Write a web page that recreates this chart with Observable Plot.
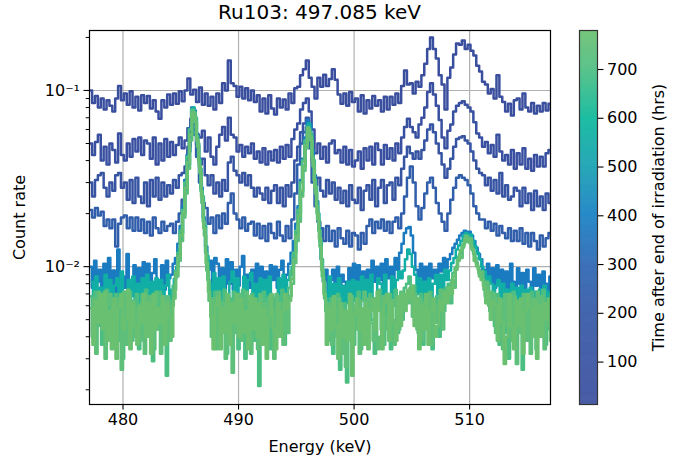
<!DOCTYPE html>
<html><head><meta charset="utf-8">
<script src="https://cdn.jsdelivr.net/npm/d3@7"></script>
<script src="https://cdn.jsdelivr.net/npm/@observablehq/plot@0.6"></script>
<style>
body{margin:0;background:#fff;font-family:"DejaVu Sans",sans-serif;}
#wrap{position:relative;width:674px;height:459px;overflow:hidden;}
#title{position:absolute;left:89px;width:461px;top:-1px;text-align:center;font-size:20px;line-height:26px;color:#000;z-index:2;}
#main{position:absolute;left:0;top:0;}
#cbar{position:absolute;left:579px;top:0;}
</style></head><body>
<div id="wrap"><div id="title">Ru103: 497.085 keV</div><div id="main"></div><div id="cbar"></div></div>
<script>
// ---- Data (count rates in units of 1e-4) ----
// Early spectra: bins of 0.25 keV starting at 477.2 keV
const upperStart = 477.2, upperStep = 0.25;
// Late spectra: bins of 0.2 keV
const lowerStep = 0.2;

const rate_t15 = [
1000,850,930,800, 900,780,880,820, 760,900,1060,880, 960,830,990,800, 920,770,940,850,
930,790,880,760, 690,880,800,950, 830,960,840,990, 870,1000,1170,950, 1010,860,1040,830,
960,820,920,780, 960,850,1100,1000, 1480,1100,1060,920, 1050,900,1030,880, 1000,860,940,760,
900,740,940,790, 730,900,800,890, 780,960,850,1030, 1050,1220,1320,1480, 1180,1050,900,1180,
1050,1230,1060,1160, 1320,1150,950,840, 960,820,980,860, 900,760,940,740, 880,790,930,820,
880,760,920,780, 920,830,960,850, 1060,1300,1080,1100, 960,1120,1050,1220, 1420,1720,2000,1720,
1520,1220,1080,780, 1180,1350,1600,1850, 1820,1920,1720,1820, 1680,1580,1380,1280, 1120,1080,960,1020,
900,1220,920,860, 760,840,720,880, 900,780,960,800, 760,850,740,820, 760,850,770,840];

const rate_t50 = [
500,430,510,560, 400,480,380,500, 460,390,570,430, 400,500,420,530, 450,540,430,520,
500,410,540,380, 500,400,530,420, 510,430,490,540, 470,520,610,690, 640,560,540,590,
450,540,420,380, 480,560,620,520, 700,560,540,450, 490,420,480,440, 500,410,450,390,
470,380,450,400, 460,390,480,410, 490,420,530,600, 650,780,850,900, 760,600,440,500,
410,480,390,500, 520,440,460,390, 480,380,460,370, 400,450,360,470, 400,480,380,500,
460,380,490,410, 470,400,500,440, 540,620,690,620, 580,540,640,700, 800,980,1100,950,
820,680,540,470, 590,640,760,820, 850,870,830,800, 760,660,570,540, 480,510,440,490,
420,560,450,400, 430,380,460,360, 440,380,470,360, 410,350,430,370, 420,370,440,460];

const rate_t110 = [
300,250,310,330, 340,280,250,300, 270,330,340,280, 300,240,310,230, 320,250,230,300,
220,310,250,320, 240,300,250,290, 260,310,280,330, 340,370,480,620, 600,490,380,410,
330,290,330,260, 300,250,310,270, 390,420,350,330, 300,340,290,330, 280,250,280,260,
240,280,230,270, 290,230,280,220, 290,250,300,400, 480,580,650,700, 560,400,290,320,
270,250,310,260, 300,240,280,230, 270,220,290,240, 230,280,210,270, 290,240,310,220,
280,310,230,290, 300,240,320,290, 360,420,480,440, 410,450,410,460, 520,600,640,580,
500,440,380,320, 360,410,480,530, 540,550,520,500, 450,400,360,340, 330,290,320,270,
310,260,340,250, 290,240,250,280, 270,220,280,230, 260,210,270,220, 250,210,260,230];

const rate_t240 = [
210,190,215,195, 205,170,185,165, 185,130,175,190, 195,165,190,160, 190,160,185,155,
180,150,190,165, 155,180,160,170, 175,155,180,200, 240,310,450,600, 560,420,300,230,
215,175,190,155, 195,165,200,175, 230,260,200,185, 165,190,160,175, 180,150,175,145,
170,140,175,155, 145,180,150,140, 170,145,185,260, 380,500,580,620, 470,300,220,180,
165,140,170,140, 160,130,165,145, 135,160,130,155, 150,125,155,135, 170,185,155,180,
165,185,160,180, 155,180,190,165, 200,250,320,370, 300,220,185,215, 260,300,320,280,
230,200,180,160, 200,240,280,320, 330,320,310,290, 260,220,200,185, 185,165,180,160,
175,150,170,155, 145,165,140,160, 140,165,135,155, 130,155,140,125, 150,130,145,155];

// Late spectra
const rate_t380 = [ // starts 477.2
100,76,108,82,96, 74,104,80,112,78, 95,72,125,80,88, 76,118,84,74,102, 80,98,72,106,78,
104,74,92,110,76, 82,102,74,108,86, 90,104,112,135,170, 220,310,430,610,800, 770,570,410,280,190,
130,96,108,80,112, 104,76,98,72,110, 80,106,74,96,78, 100,115,78,90,76, 96,74,104,80,100,
78,94,72,102,84, 100,76,96,108,78, 90,104,120,140,175, 220,310,410,540,680, 640,460,330,235,165,
110,82,96,74,84, 96,76,100,70,90, 82,72,98,76,104, 78,102,80,94,74, 96,78,108,82,100,
84,104,78,110,86, 100,82,112,96,120, 135,155,165,168,150, 120,96,84,104,80, 100,78,104,86,96,
82,104,94,112,98, 110,118,128,135,142, 150,155,160,152,158, 150,140,128,118,110, 96,86,104,80,98,
76,102,80,96,74, 94,76,104,82,72, 98,80,92,74,96, 82,70,98,78,90, 74,94,80,70,88];

const rate_t560 = [ // starts 477.3
82,64,88,60,76, 66,90,62,84,58, 78,86,64,94,70, 60,84,68,88,64, 80,60,86,66,90,
64,82,58,86,68, 84,62,78,90,60, 74,85,100,125,155, 200,275,380,560,800, 700,500,360,250,170,
115,80,64,92,66, 86,62,88,68,60, 82,94,64,86,60, 66,88,62,84,92, 64,80,58,86,68,
84,62,88,68,60, 66,86,62,90,70, 84,90,100,120,155, 200,270,370,500,650, 560,400,285,200,140,
95,72,64,88,60, 80,58,86,62,78, 62,82,56,84,64, 82,60,88,64,84, 64,90,66,60,86,
80,62,90,70,64, 88,66,84,94,86, 95,110,125,118,100, 90,70,86,64,82, 66,86,62,80,90,
70,90,74,96,84, 95,105,112,125,132, 140,150,155,148,152, 140,130,120,110,100, 94,82,88,80,72,
78,84,62,80,58, 74,56,80,62,76, 60,78,56,74,62, 76,58,72,54,74, 62,78,56,72,60];

const rate_t700 = [ // starts 477.2
68,40,72,46,62, 36,58,74,42,66, 48,70,38,64,30, 60,42,72,38,56, 70,34,62,44,74,
40,66,29,60,44, 72,38,58,24,64, 52,78,95,120,160, 210,300,420,600,780, 750,550,400,270,180,
120,84,66,40,72, 36,64,46,74,32, 66,40,72,50,34, 58,74,30,62,44, 70,38,60,21,52,
72,42,66,34,58, 40,68,46,74,36, 62,76,95,120,160, 210,300,400,520,620, 580,420,310,220,160,
110,82,56,38,66, 32,58,70,26,52, 62,22,48,68,36, 58,72,34,56,66, 40,70,50,32,62,
74,44,36,66,50, 34,60,74,42,68, 50,76,80,88,64, 78,50,42,70,36, 64,44,72,34,60,
68,40,74,56,76, 80,62,92,98,110, 118,128,140,148,140, 130,118,106,96,90, 84,68,80,56,72,
46,70,36,64,42, 66,30,58,72,40, 62,44,26,68,48, 38,72,46,34,66, 52,74,36,62,44];

const rate_t740 = [ // starts 477.3
44,66,32,72,50, 64,30,60,70,38, 42,66,54,26,72, 36,68,50,64,40, 58,38,70,32,64,
68,46,34,72,52, 32,64,44,68,38, 60,74,88,108,140, 190,260,360,520,760, 660,480,340,230,150,
95,64,40,66,34, 72,44,62,30,68, 46,25,64,42,70, 38,60,72,46,32, 66,50,34,70,40,
62,36,68,46,30, 70,46,62,36,60, 42,68,80,105,140, 180,250,350,470,600, 520,370,260,185,130,
88,66,42,62,36, 60,40,66,32,56, 27,54,68,38,60, 44,32,64,72,38, 66,48,38,64,34,
40,68,52,44,70, 50,36,66,44,72, 58,70,62,76,52, 70,44,66,38,62, 46,70,36,64,48,
60,74,44,68,76, 66,84,76,100,114, 112,134,150,138,145, 124,112,100,88,94, 74,82,60,55,70,
42,66,50,34,70, 46,62,38,68,28, 60,42,70,38,64, 32,66,46,72,40, 68,34,62,46,70];

const rate_t775 = [ // starts 477.25
58,36,64,48,70, 44,72,38,56,34, 66,30,58,70,44, 50,74,34,62,46, 36,60,48,70,40,
62,32,70,44,58, 48,68,36,62,52, 40,66,92,115,150, 200,280,390,560,740, 700,520,370,250,165,
105,72,52,34,60, 68,34,58,42,70, 36,62,48,70,40, 66,42,56,34,68, 44,66,40,62,36,
58,30,52,70,44, 34,62,40,56,70, 58,64,85,110,150, 195,270,370,490,610, 550,400,285,200,145,
96,70,36,58,44, 68,46,30,62,40, 56,38,70,24,54, 66,44,58,36,62, 34,56,66,44,72,
56,34,62,70,38, 64,48,38,68,46, 70,56,74,66,78, 46,66,34,60,44, 70,36,56,66,40,
46,64,56,72,62, 76,70,88,96,108, 124,130,144,142,136, 126,108,102,92,84, 78,62,72,50,64,
60,38,66,48,28, 40,70,46,34,64, 46,66,32,56,70, 58,40,64,30,60, 40,62,50,66,38];

// time after end of irradiation (hrs) per spectrum, with bin start and width
const spectra = [
  {t: 15,  start: upperStart, step: upperStep, rate: rate_t15},
  {t: 50,  start: upperStart, step: upperStep, rate: rate_t50},
  {t: 110, start: upperStart, step: upperStep, rate: rate_t110},
  {t: 240, start: upperStart, step: upperStep, rate: rate_t240},
  {t: 380, start: 477.2,  step: lowerStep, rate: rate_t380},
  {t: 560, start: 477.3,  step: lowerStep, rate: rate_t560},
  {t: 700, start: 477.2,  step: lowerStep, rate: rate_t700},
  {t: 740, start: 477.3,  step: lowerStep, rate: rate_t740},
  {t: 775, start: 477.25, step: lowerStep, rate: rate_t775}
];

// colormap stops (hrs)
const cStops = [13, 200, 300, 400, 500, 600, 700, 780];
const cColors = ["#3a4e9e", "#3559a7", "#2c66b2", "#1780c4", "#17a0b2", "#0bb89b", "#4dbe82", "#6cc070"];
const xTicks = [480, 490, 500, 510];
const yMajor = [0.01, 0.1];
const yMinor = [0.002,0.003,0.004,0.005,0.006,0.007,0.008,0.009,0.02,0.03,0.04,0.05,0.06,0.07,0.08,0.09,0.2];
const cTicks = [100, 200, 300, 400, 500, 600, 700];

const colorOpts = {type: "linear", domain: cStops, range: cColors};
const font = {fontFamily: "'DejaVu Sans', sans-serif", fontSize: "16px", color: "#000", background: "transparent", overflow: "visible"};

const lineMarks = spectra.map(s => {
  const rows = s.rate.map((v, i) => ({E: s.start + i * s.step, r: v * 1e-4, t: s.t}));
  return Plot.line(rows, {x: "E", y: "r", stroke: "t", curve: "step", strokeWidth: 2.5, clip: true});
});

const main = Plot.plot({
  width: 674, height: 459,
  marginLeft: 89, marginRight: 124, marginTop: 30, marginBottom: 55,
  style: font,
  x: {domain: [477.1, 517.0]},
  y: {type: "log", domain: [0.00165, 0.219]},
  color: colorOpts,
  marks: [
    Plot.gridX(xTicks, {stroke: "#b0b0b0", strokeOpacity: 1, strokeWidth: 1.2}),
    Plot.gridY(yMajor, {stroke: "#b0b0b0", strokeOpacity: 1, strokeWidth: 1.2}),
    ...lineMarks,
    Plot.frame({stroke: "#000", strokeWidth: 1.2}),
    Plot.axisX(xTicks, {tickSize: 5.5, tickPadding: 4, strokeWidth: 1.1, label: "Energy (keV)", labelAnchor: "center", labelArrow: "none", labelOffset: 47}),
    Plot.axisY(yMinor, {tickSize: 3.3, strokeWidth: 1, tickFormat: () => "", label: null}),
    Plot.axisY(yMajor, {tickSize: 5.5, tickPadding: 4, strokeWidth: 1.1, tickFormat: d => d < 0.05 ? "10\u207B\u00B2" : "10\u207B\u00B9", label: "Count rate", labelAnchor: "center", labelArrow: "none", labelOffset: 76})
  ]
});
document.getElementById("main").appendChild(main);

const bands = d3.range(13, 780, 1);
const cbar = Plot.plot({
  width: 95, height: 459,
  marginLeft: 0, marginRight: 77, marginTop: 30, marginBottom: 55,
  style: font,
  x: {domain: [0, 1], axis: null},
  y: {domain: [13, 780]},
  color: colorOpts,
  marks: [
    Plot.rect(bands, {x1: 0, x2: 1, y1: d => d, y2: d => d + 1.6, fill: d => d + 0.5, clip: true}),
    Plot.frame({stroke: "#333", strokeWidth: 1.2}),
    Plot.axisY(cTicks, {anchor: "right", tickSize: 5.5, tickPadding: 4, strokeWidth: 1.1, label: "Time after end of irradiation (hrs)", labelAnchor: "center", labelArrow: "none", labelOffset: 66})
  ]
});
document.getElementById("cbar").appendChild(cbar);
</script>
</body></html>
